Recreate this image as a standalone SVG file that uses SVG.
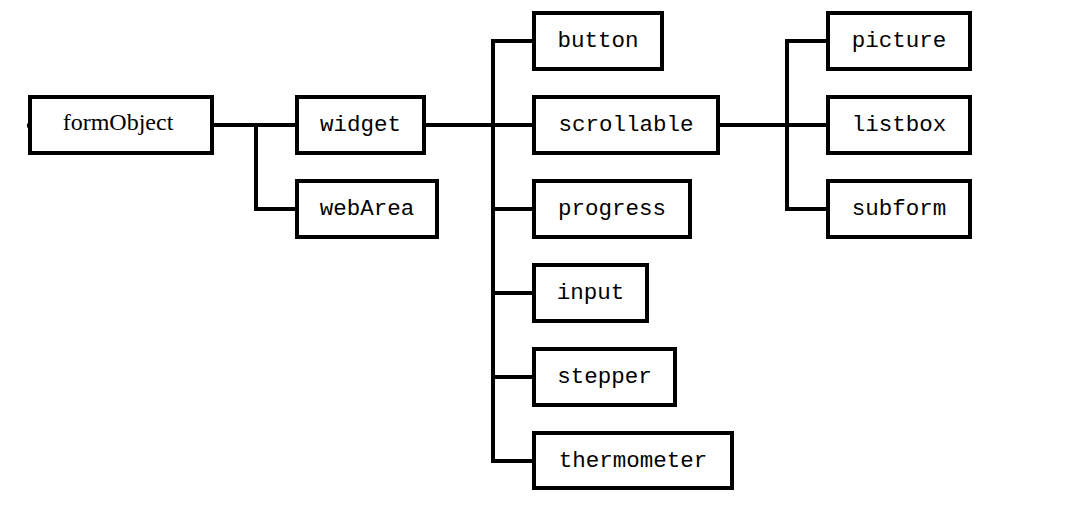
<svg xmlns="http://www.w3.org/2000/svg" width="1092" height="524" viewBox="0 0 1092 524">
<style>
rect{fill:#fff;stroke:#000;stroke-width:4}
.c path{fill:none;stroke:#000;stroke-width:4;stroke-linecap:square}
text{font-family:"Liberation Mono","Courier New",monospace;font-size:22.5px;text-anchor:middle;fill:#000}
.s{font-family:"Liberation Serif","Times New Roman",serif;font-size:24px}
</style>
<rect width="1092" height="524" style="stroke:none"/>
<g class="c">
<path d="M27 125.5H30" style="stroke-linecap:butt"/>
<path d="M213 125H297M256 125V209H297"/>
<path d="M424 125H534M534 41H493V461H534M493 209H534M493 293H534M493 377H534"/>
<path d="M718 125H828M828 41H787V209H828"/>
</g>
<g id="formObject"><rect x="30" y="97" width="182" height="56"/><text class="s" x="118" y="130">formObject</text></g>
<g id="widget"><rect x="297" y="97" width="127" height="56"/><text x="360.5" y="131">widget</text></g>
<g id="webArea"><rect x="297" y="181" width="140" height="56"/><text x="367" y="215">webArea</text></g>
<g id="button"><rect x="534" y="13" width="128" height="56"/><text x="598" y="47">button</text></g>
<g id="scrollable"><rect x="534" y="97" width="184" height="56"/><text x="626" y="131">scrollable</text></g>
<g id="progress"><rect x="534" y="181" width="156" height="56"/><text x="612" y="215">progress</text></g>
<g id="input"><rect x="534" y="265" width="113" height="56"/><text x="590.5" y="299">input</text></g>
<g id="stepper"><rect x="534" y="349" width="141" height="56"/><text x="604.5" y="383">stepper</text></g>
<g id="thermometer"><rect x="534" y="433" width="198" height="55"/><text x="633" y="467">thermometer</text></g>
<g id="picture"><rect x="828" y="13" width="142" height="56"/><text x="899" y="47">picture</text></g>
<g id="listbox"><rect x="828" y="97" width="142" height="56"/><text x="899" y="131">listbox</text></g>
<g id="subform"><rect x="828" y="181" width="142" height="56"/><text x="899" y="215">subform</text></g>
</svg>
